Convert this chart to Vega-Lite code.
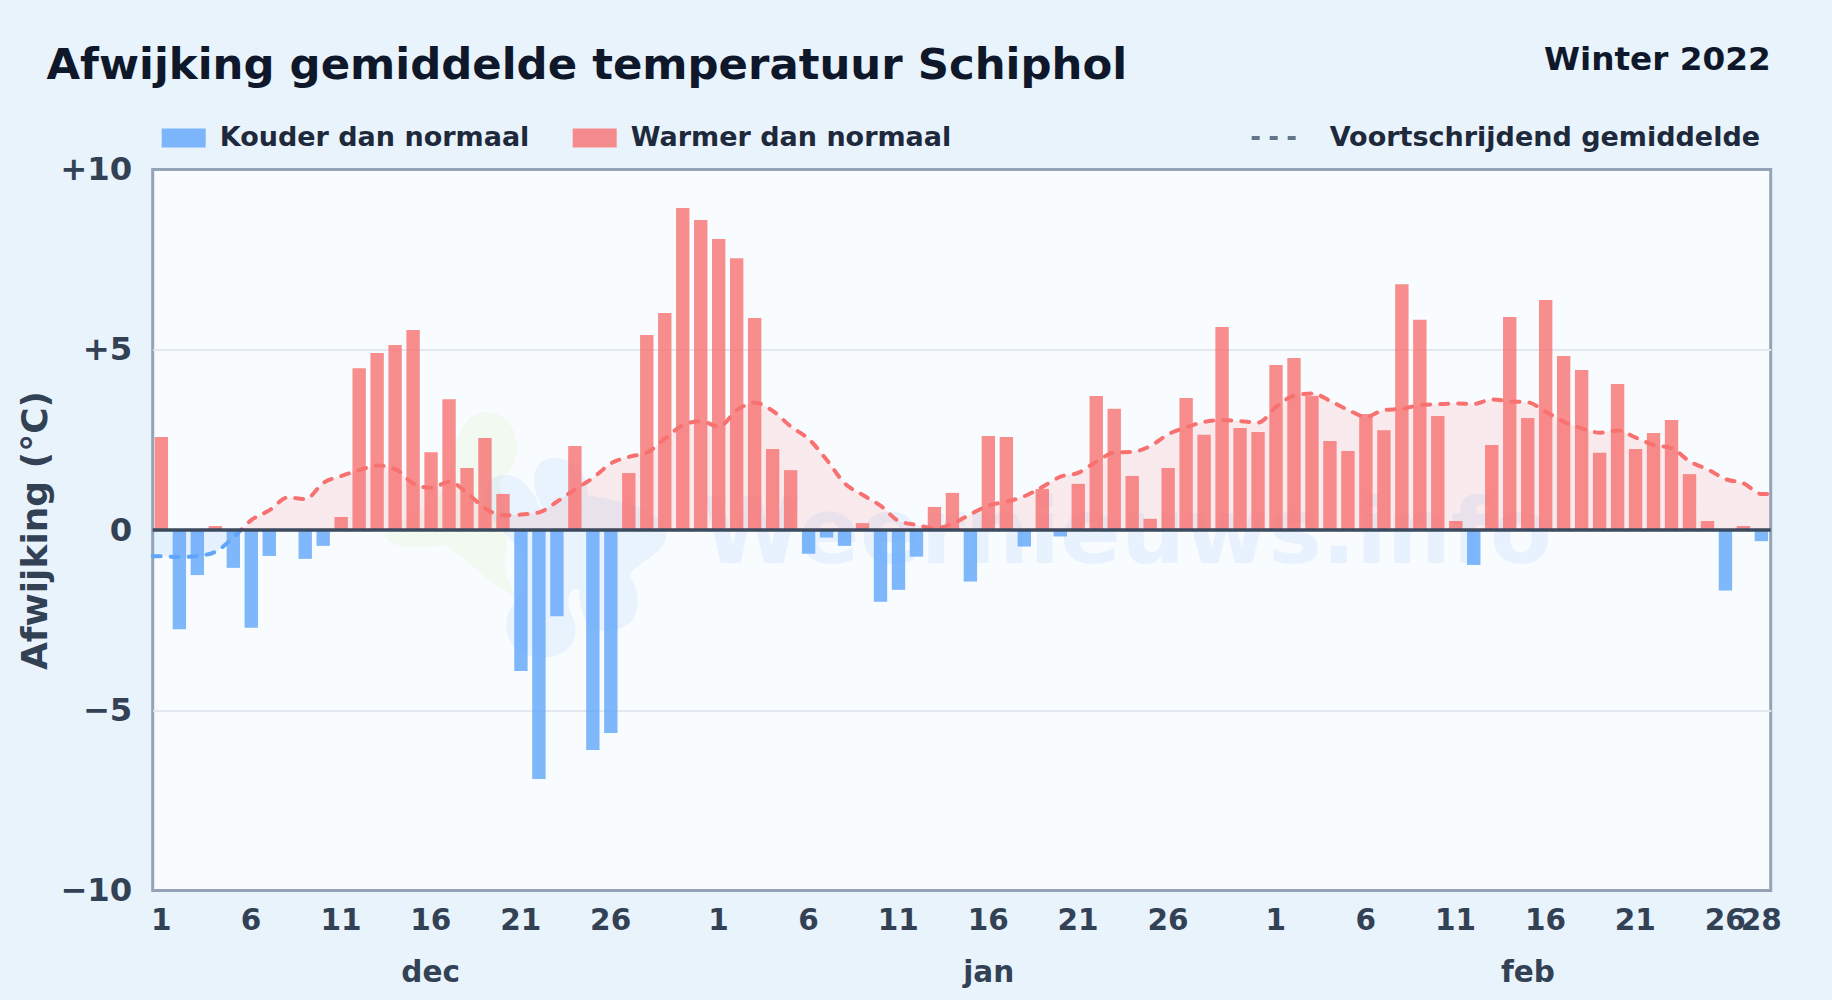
{"$schema":"https://vega.github.io/schema/vega-lite/v6.json","autosize":{"type":"none"},"width":1618,"height":721,"padding":{"left":152.7,"top":169.5,"right":61.3,"bottom":109.5},"background":"#e8f3fc","config":{"font":"DejaVu Sans","view":{"fill":"#f8fcff","stroke":"#94a3b8","strokeWidth":3}},"title":{"text":"Afwijking gemiddelde temperatuur Schiphol","anchor":"start","frame":"group","dx":-106.2,"offset":-45,"fontSize":43.4,"fontWeight":"bold","color":"#0f172a"},"datasets":{"dagen":[{"datum":"2021-12-01T00:00:00","afwijking":2.58,"reeks":"Warmer dan normaal"},{"datum":"2021-12-02T00:00:00","afwijking":-2.75,"reeks":"Kouder dan normaal"},{"datum":"2021-12-03T00:00:00","afwijking":-1.25,"reeks":"Kouder dan normaal"},{"datum":"2021-12-04T00:00:00","afwijking":0.11,"reeks":"Warmer dan normaal"},{"datum":"2021-12-05T00:00:00","afwijking":-1.05,"reeks":"Kouder dan normaal"},{"datum":"2021-12-06T00:00:00","afwijking":-2.71,"reeks":"Kouder dan normaal"},{"datum":"2021-12-07T00:00:00","afwijking":-0.72,"reeks":"Kouder dan normaal"},{"datum":"2021-12-08T00:00:00","afwijking":0,"reeks":"Warmer dan normaal"},{"datum":"2021-12-09T00:00:00","afwijking":-0.8,"reeks":"Kouder dan normaal"},{"datum":"2021-12-10T00:00:00","afwijking":-0.44,"reeks":"Kouder dan normaal"},{"datum":"2021-12-11T00:00:00","afwijking":0.36,"reeks":"Warmer dan normaal"},{"datum":"2021-12-12T00:00:00","afwijking":4.49,"reeks":"Warmer dan normaal"},{"datum":"2021-12-13T00:00:00","afwijking":4.91,"reeks":"Warmer dan normaal"},{"datum":"2021-12-14T00:00:00","afwijking":5.13,"reeks":"Warmer dan normaal"},{"datum":"2021-12-15T00:00:00","afwijking":5.55,"reeks":"Warmer dan normaal"},{"datum":"2021-12-16T00:00:00","afwijking":2.16,"reeks":"Warmer dan normaal"},{"datum":"2021-12-17T00:00:00","afwijking":3.63,"reeks":"Warmer dan normaal"},{"datum":"2021-12-18T00:00:00","afwijking":1.72,"reeks":"Warmer dan normaal"},{"datum":"2021-12-19T00:00:00","afwijking":2.55,"reeks":"Warmer dan normaal"},{"datum":"2021-12-20T00:00:00","afwijking":1.0,"reeks":"Warmer dan normaal"},{"datum":"2021-12-21T00:00:00","afwijking":-3.91,"reeks":"Kouder dan normaal"},{"datum":"2021-12-22T00:00:00","afwijking":-6.91,"reeks":"Kouder dan normaal"},{"datum":"2021-12-23T00:00:00","afwijking":-2.39,"reeks":"Kouder dan normaal"},{"datum":"2021-12-24T00:00:00","afwijking":2.33,"reeks":"Warmer dan normaal"},{"datum":"2021-12-25T00:00:00","afwijking":-6.1,"reeks":"Kouder dan normaal"},{"datum":"2021-12-26T00:00:00","afwijking":-5.63,"reeks":"Kouder dan normaal"},{"datum":"2021-12-27T00:00:00","afwijking":1.58,"reeks":"Warmer dan normaal"},{"datum":"2021-12-28T00:00:00","afwijking":5.41,"reeks":"Warmer dan normaal"},{"datum":"2021-12-29T00:00:00","afwijking":6.02,"reeks":"Warmer dan normaal"},{"datum":"2021-12-30T00:00:00","afwijking":8.93,"reeks":"Warmer dan normaal"},{"datum":"2021-12-31T00:00:00","afwijking":8.6,"reeks":"Warmer dan normaal"},{"datum":"2022-01-01T00:00:00","afwijking":8.07,"reeks":"Warmer dan normaal"},{"datum":"2022-01-02T00:00:00","afwijking":7.54,"reeks":"Warmer dan normaal"},{"datum":"2022-01-03T00:00:00","afwijking":5.88,"reeks":"Warmer dan normaal"},{"datum":"2022-01-04T00:00:00","afwijking":2.25,"reeks":"Warmer dan normaal"},{"datum":"2022-01-05T00:00:00","afwijking":1.66,"reeks":"Warmer dan normaal"},{"datum":"2022-01-06T00:00:00","afwijking":-0.66,"reeks":"Kouder dan normaal"},{"datum":"2022-01-07T00:00:00","afwijking":-0.21,"reeks":"Kouder dan normaal"},{"datum":"2022-01-08T00:00:00","afwijking":-0.44,"reeks":"Kouder dan normaal"},{"datum":"2022-01-09T00:00:00","afwijking":0.19,"reeks":"Warmer dan normaal"},{"datum":"2022-01-10T00:00:00","afwijking":-1.99,"reeks":"Kouder dan normaal"},{"datum":"2022-01-11T00:00:00","afwijking":-1.66,"reeks":"Kouder dan normaal"},{"datum":"2022-01-12T00:00:00","afwijking":-0.74,"reeks":"Kouder dan normaal"},{"datum":"2022-01-13T00:00:00","afwijking":0.64,"reeks":"Warmer dan normaal"},{"datum":"2022-01-14T00:00:00","afwijking":1.03,"reeks":"Warmer dan normaal"},{"datum":"2022-01-15T00:00:00","afwijking":-1.43,"reeks":"Kouder dan normaal"},{"datum":"2022-01-16T00:00:00","afwijking":2.61,"reeks":"Warmer dan normaal"},{"datum":"2022-01-17T00:00:00","afwijking":2.58,"reeks":"Warmer dan normaal"},{"datum":"2022-01-18T00:00:00","afwijking":-0.46,"reeks":"Kouder dan normaal"},{"datum":"2022-01-19T00:00:00","afwijking":1.14,"reeks":"Warmer dan normaal"},{"datum":"2022-01-20T00:00:00","afwijking":-0.18,"reeks":"Kouder dan normaal"},{"datum":"2022-01-21T00:00:00","afwijking":1.28,"reeks":"Warmer dan normaal"},{"datum":"2022-01-22T00:00:00","afwijking":3.72,"reeks":"Warmer dan normaal"},{"datum":"2022-01-23T00:00:00","afwijking":3.36,"reeks":"Warmer dan normaal"},{"datum":"2022-01-24T00:00:00","afwijking":1.5,"reeks":"Warmer dan normaal"},{"datum":"2022-01-25T00:00:00","afwijking":0.31,"reeks":"Warmer dan normaal"},{"datum":"2022-01-26T00:00:00","afwijking":1.72,"reeks":"Warmer dan normaal"},{"datum":"2022-01-27T00:00:00","afwijking":3.66,"reeks":"Warmer dan normaal"},{"datum":"2022-01-28T00:00:00","afwijking":2.64,"reeks":"Warmer dan normaal"},{"datum":"2022-01-29T00:00:00","afwijking":5.63,"reeks":"Warmer dan normaal"},{"datum":"2022-01-30T00:00:00","afwijking":2.83,"reeks":"Warmer dan normaal"},{"datum":"2022-01-31T00:00:00","afwijking":2.72,"reeks":"Warmer dan normaal"},{"datum":"2022-02-01T00:00:00","afwijking":4.58,"reeks":"Warmer dan normaal"},{"datum":"2022-02-02T00:00:00","afwijking":4.77,"reeks":"Warmer dan normaal"},{"datum":"2022-02-03T00:00:00","afwijking":3.72,"reeks":"Warmer dan normaal"},{"datum":"2022-02-04T00:00:00","afwijking":2.47,"reeks":"Warmer dan normaal"},{"datum":"2022-02-05T00:00:00","afwijking":2.19,"reeks":"Warmer dan normaal"},{"datum":"2022-02-06T00:00:00","afwijking":3.22,"reeks":"Warmer dan normaal"},{"datum":"2022-02-07T00:00:00","afwijking":2.77,"reeks":"Warmer dan normaal"},{"datum":"2022-02-08T00:00:00","afwijking":6.82,"reeks":"Warmer dan normaal"},{"datum":"2022-02-09T00:00:00","afwijking":5.83,"reeks":"Warmer dan normaal"},{"datum":"2022-02-10T00:00:00","afwijking":3.16,"reeks":"Warmer dan normaal"},{"datum":"2022-02-11T00:00:00","afwijking":0.25,"reeks":"Warmer dan normaal"},{"datum":"2022-02-12T00:00:00","afwijking":-0.97,"reeks":"Kouder dan normaal"},{"datum":"2022-02-13T00:00:00","afwijking":2.36,"reeks":"Warmer dan normaal"},{"datum":"2022-02-14T00:00:00","afwijking":5.91,"reeks":"Warmer dan normaal"},{"datum":"2022-02-15T00:00:00","afwijking":3.11,"reeks":"Warmer dan normaal"},{"datum":"2022-02-16T00:00:00","afwijking":6.38,"reeks":"Warmer dan normaal"},{"datum":"2022-02-17T00:00:00","afwijking":4.83,"reeks":"Warmer dan normaal"},{"datum":"2022-02-18T00:00:00","afwijking":4.44,"reeks":"Warmer dan normaal"},{"datum":"2022-02-19T00:00:00","afwijking":2.14,"reeks":"Warmer dan normaal"},{"datum":"2022-02-20T00:00:00","afwijking":4.05,"reeks":"Warmer dan normaal"},{"datum":"2022-02-21T00:00:00","afwijking":2.25,"reeks":"Warmer dan normaal"},{"datum":"2022-02-22T00:00:00","afwijking":2.69,"reeks":"Warmer dan normaal"},{"datum":"2022-02-23T00:00:00","afwijking":3.05,"reeks":"Warmer dan normaal"},{"datum":"2022-02-24T00:00:00","afwijking":1.55,"reeks":"Warmer dan normaal"},{"datum":"2022-02-25T00:00:00","afwijking":0.25,"reeks":"Warmer dan normaal"},{"datum":"2022-02-26T00:00:00","afwijking":-1.68,"reeks":"Kouder dan normaal"},{"datum":"2022-02-27T00:00:00","afwijking":0.11,"reeks":"Warmer dan normaal"},{"datum":"2022-02-28T00:00:00","afwijking":-0.31,"reeks":"Kouder dan normaal"}],"lijn":[{"moment":"2021-12-01T00:00:00","gemiddelde":-0.73},{"moment":"2021-12-01T12:00:00","gemiddelde":-0.73},{"moment":"2021-12-02T12:00:00","gemiddelde":-0.75},{"moment":"2021-12-03T12:00:00","gemiddelde":-0.72},{"moment":"2021-12-04T12:00:00","gemiddelde":-0.6},{"moment":"2021-12-05T12:00:00","gemiddelde":-0.2},{"moment":"2021-12-06T12:00:00","gemiddelde":0.28},{"moment":"2021-12-07T12:00:00","gemiddelde":0.55},{"moment":"2021-12-08T12:00:00","gemiddelde":0.9},{"moment":"2021-12-09T12:00:00","gemiddelde":0.86},{"moment":"2021-12-10T12:00:00","gemiddelde":1.31},{"moment":"2021-12-11T12:00:00","gemiddelde":1.5},{"moment":"2021-12-12T12:00:00","gemiddelde":1.66},{"moment":"2021-12-13T12:00:00","gemiddelde":1.79},{"moment":"2021-12-14T12:00:00","gemiddelde":1.69},{"moment":"2021-12-15T12:00:00","gemiddelde":1.29},{"moment":"2021-12-16T12:00:00","gemiddelde":1.17},{"moment":"2021-12-17T12:00:00","gemiddelde":1.34},{"moment":"2021-12-18T12:00:00","gemiddelde":1.02},{"moment":"2021-12-19T12:00:00","gemiddelde":0.6},{"moment":"2021-12-20T12:00:00","gemiddelde":0.41},{"moment":"2021-12-21T12:00:00","gemiddelde":0.43},{"moment":"2021-12-22T12:00:00","gemiddelde":0.49},{"moment":"2021-12-23T12:00:00","gemiddelde":0.79},{"moment":"2021-12-24T12:00:00","gemiddelde":1.13},{"moment":"2021-12-25T12:00:00","gemiddelde":1.45},{"moment":"2021-12-26T12:00:00","gemiddelde":1.85},{"moment":"2021-12-27T12:00:00","gemiddelde":2.03},{"moment":"2021-12-28T12:00:00","gemiddelde":2.15},{"moment":"2021-12-29T12:00:00","gemiddelde":2.54},{"moment":"2021-12-30T12:00:00","gemiddelde":2.91},{"moment":"2021-12-31T12:00:00","gemiddelde":3.02},{"moment":"2022-01-01T12:00:00","gemiddelde":2.87},{"moment":"2022-01-02T12:00:00","gemiddelde":3.33},{"moment":"2022-01-03T12:00:00","gemiddelde":3.53},{"moment":"2022-01-04T12:00:00","gemiddelde":3.3},{"moment":"2022-01-05T12:00:00","gemiddelde":2.87},{"moment":"2022-01-06T12:00:00","gemiddelde":2.52},{"moment":"2022-01-07T12:00:00","gemiddelde":1.94},{"moment":"2022-01-08T12:00:00","gemiddelde":1.29},{"moment":"2022-01-09T12:00:00","gemiddelde":0.97},{"moment":"2022-01-10T12:00:00","gemiddelde":0.67},{"moment":"2022-01-11T12:00:00","gemiddelde":0.25},{"moment":"2022-01-12T12:00:00","gemiddelde":0.14},{"moment":"2022-01-13T12:00:00","gemiddelde":0.05},{"moment":"2022-01-14T12:00:00","gemiddelde":0.18},{"moment":"2022-01-15T12:00:00","gemiddelde":0.44},{"moment":"2022-01-16T12:00:00","gemiddelde":0.68},{"moment":"2022-01-17T12:00:00","gemiddelde":0.79},{"moment":"2022-01-18T12:00:00","gemiddelde":0.94},{"moment":"2022-01-19T12:00:00","gemiddelde":1.2},{"moment":"2022-01-20T12:00:00","gemiddelde":1.48},{"moment":"2022-01-21T12:00:00","gemiddelde":1.59},{"moment":"2022-01-22T12:00:00","gemiddelde":1.9},{"moment":"2022-01-23T12:00:00","gemiddelde":2.15},{"moment":"2022-01-24T12:00:00","gemiddelde":2.17},{"moment":"2022-01-25T12:00:00","gemiddelde":2.33},{"moment":"2022-01-26T12:00:00","gemiddelde":2.66},{"moment":"2022-01-27T12:00:00","gemiddelde":2.85},{"moment":"2022-01-28T12:00:00","gemiddelde":3.0},{"moment":"2022-01-29T12:00:00","gemiddelde":3.05},{"moment":"2022-01-30T12:00:00","gemiddelde":3.02},{"moment":"2022-01-31T12:00:00","gemiddelde":2.98},{"moment":"2022-02-01T12:00:00","gemiddelde":3.42},{"moment":"2022-02-02T12:00:00","gemiddelde":3.73},{"moment":"2022-02-03T12:00:00","gemiddelde":3.79},{"moment":"2022-02-04T12:00:00","gemiddelde":3.58},{"moment":"2022-02-05T12:00:00","gemiddelde":3.33},{"moment":"2022-02-06T12:00:00","gemiddelde":3.14},{"moment":"2022-02-07T12:00:00","gemiddelde":3.33},{"moment":"2022-02-08T12:00:00","gemiddelde":3.36},{"moment":"2022-02-09T12:00:00","gemiddelde":3.47},{"moment":"2022-02-10T12:00:00","gemiddelde":3.49},{"moment":"2022-02-11T12:00:00","gemiddelde":3.51},{"moment":"2022-02-12T12:00:00","gemiddelde":3.5},{"moment":"2022-02-13T12:00:00","gemiddelde":3.62},{"moment":"2022-02-14T12:00:00","gemiddelde":3.57},{"moment":"2022-02-15T12:00:00","gemiddelde":3.54},{"moment":"2022-02-16T12:00:00","gemiddelde":3.28},{"moment":"2022-02-17T12:00:00","gemiddelde":3.0},{"moment":"2022-02-18T12:00:00","gemiddelde":2.82},{"moment":"2022-02-19T12:00:00","gemiddelde":2.7},{"moment":"2022-02-20T12:00:00","gemiddelde":2.76},{"moment":"2022-02-21T12:00:00","gemiddelde":2.56},{"moment":"2022-02-22T12:00:00","gemiddelde":2.36},{"moment":"2022-02-23T12:00:00","gemiddelde":2.27},{"moment":"2022-02-24T12:00:00","gemiddelde":1.9},{"moment":"2022-02-25T12:00:00","gemiddelde":1.68},{"moment":"2022-02-26T12:00:00","gemiddelde":1.41},{"moment":"2022-02-27T12:00:00","gemiddelde":1.29},{"moment":"2022-02-28T12:00:00","gemiddelde":1.0},{"moment":"2022-03-01T00:00:00","gemiddelde":1.0}],"maanden":[{"maand":"dec","midden":"2021-12-16T11:00:00"},{"maand":"jan","midden":"2022-01-16T12:00:00"},{"maand":"feb","midden":"2022-02-15T12:00:00"}]},"layer":[{"data":{"name":"dagen"},"mark":{"type":"rule","opacity":0},"encoding":{"x":{"field":"datum","type":"temporal","title":null,"scale":{"domain":[{"year":2021,"month":12,"date":1},{"year":2022,"month":3,"date":1}],"nice":false},"axis":{"domain":false,"ticks":false,"grid":false,"title":null,"values":[{"year":2021,"month":12,"date":1},{"year":2021,"month":12,"date":6},{"year":2021,"month":12,"date":11},{"year":2021,"month":12,"date":16},{"year":2021,"month":12,"date":21},{"year":2021,"month":12,"date":26},{"year":2022,"month":1,"date":1},{"year":2022,"month":1,"date":6},{"year":2022,"month":1,"date":11},{"year":2022,"month":1,"date":16},{"year":2022,"month":1,"date":21},{"year":2022,"month":1,"date":26},{"year":2022,"month":2,"date":1},{"year":2022,"month":2,"date":6},{"year":2022,"month":2,"date":11},{"year":2022,"month":2,"date":16},{"year":2022,"month":2,"date":21},{"year":2022,"month":2,"date":26},{"year":2022,"month":2,"date":28}],"format":"%-d","labelOffset":8,"labelAlign":"center","labelOverlap":false,"labelBound":false,"labelFlush":false,"labelFontSize":29.5,"labelFontWeight":"bold","labelColor":"#334155","labelPadding":16}},"y":{"field":"afwijking","type":"quantitative","title":"Afwijking (°C)","scale":{"domain":[-10,10],"nice":false,"zero":false},"axis":{"values":[-10,-5,0,5,10],"labelExpr":"datum.value>0?'+'+datum.value:(datum.value<0?'−'+abs(datum.value):'0')","domain":false,"ticks":false,"grid":true,"gridColor":{"condition":{"test":"abs(datum.value)==5","value":"#e2e8f0"},"value":"transparent"},"gridWidth":2,"labelFontSize":32.3,"labelFontWeight":"bold","labelColor":"#334155","labelPadding":21,"titleFontSize":36,"titleFontWeight":"bold","titleColor":"#334155","titlePadding":5}}}},{"data":{"values":[{"vorm":"kaart"}]},"mark":{"type":"point","shape":"M-115,5 C-100,-15 -65,-15 -50,-50 C-50,-95 -30,-118 -15,-118 C10,-118 20,-95 17,-75 C15,-60 5,-55 0,-50 C5,-20 10,10 5,30 C5,50 15,60 15,65 C-5,60 -30,30 -55,15 C-80,18 -110,20 -115,5Z","filled":true,"size":4,"fill":"#84cc16","opacity":0.06},"encoding":{"x":{"datum":{"year":2021,"month":12,"date":20,"hours":7},"type":"temporal"},"y":{"datum":0}}},{"data":{"values":[{"vorm":"kaart"}]},"mark":{"type":"point","shape":"M-15,-40 C-10,-60 20,-60 30,-40 C38,-35 38,-20 45,-20 C30,-40 30,-72 55,-72 C75,-72 90,-55 88,-35 C120,-30 165,-20 167,5 C165,25 140,30 130,45 C145,70 140,100 110,100 C90,105 80,90 80,60 C70,55 65,70 72,85 C85,110 65,130 40,127 C15,128 0,105 10,80 C25,60 30,40 20,20 C5,0 -20,-15 -15,-40Z","filled":true,"size":4,"fill":"#60a5fa","opacity":0.1},"encoding":{"x":{"datum":{"year":2021,"month":12,"date":20,"hours":7},"type":"temporal"},"y":{"datum":0}}},{"data":{"values":[{"tekst":"Weernieuws.info"}]},"mark":{"type":"text","fontSize":90,"fontWeight":"bold","align":"center","baseline":"alphabetic","fill":"#60a5fa","opacity":0.1},"encoding":{"x":{"datum":{"year":2022,"month":1,"date":24,"hours":5},"type":"temporal"},"y":{"datum":-0.92},"text":{"field":"tekst"}}},{"data":{"name":"lijn"},"mark":{"type":"area","interpolate":"monotone","fill":{"gradient":"linear","x1":0,"y1":0,"x2":0,"y2":1,"stops":[{"offset":0,"color":"#f87171"},{"offset":0.8348,"color":"#f87171"},{"offset":0.8348,"color":"#60a5fa"},{"offset":1,"color":"#60a5fa"}]},"opacity":0.13},"encoding":{"x":{"field":"moment","type":"temporal"},"y":{"field":"gemiddelde","type":"quantitative"},"y2":{"datum":0}}},{"data":{"name":"dagen"},"mark":{"type":"bar","width":{"band":0.8},"opacity":0.8,"xOffset":-0.8},"encoding":{"x":{"field":"datum","timeUnit":"yearmonthdate","type":"temporal"},"y":{"field":"afwijking","type":"quantitative"},"y2":{"datum":0},"fill":{"field":"reeks","type":"nominal","scale":{"domain":["Kouder dan normaal","Warmer dan normaal"],"range":["#60a5fa","#f87171"]},"legend":{"orient":"none","direction":"horizontal","legendX":9,"legendY":-53.5,"title":null,"symbolType":"M-1,-0.43H1V0.43H-1Z","symbolSize":1936,"symbolStrokeWidth":0,"labelFontSize":27,"labelFontWeight":"bold","labelColor":"#1e293b","labelOffset":14,"columnPadding":43,"labelLimit":600}}}},{"data":{"name":"lijn"},"mark":{"type":"line","interpolate":"monotone","stroke":{"gradient":"linear","x1":0,"y1":0,"x2":0,"y2":1,"stops":[{"offset":0,"color":"#f87171"},{"offset":0.8348,"color":"#f87171"},{"offset":0.8348,"color":"#60a5fa"},{"offset":1,"color":"#60a5fa"}]},"strokeWidth":4,"strokeCap":"round"},"encoding":{"x":{"field":"moment","type":"temporal"},"y":{"field":"gemiddelde","type":"quantitative"},"strokeDash":{"datum":"Voortschrijdend gemiddelde","scale":{"domain":["Voortschrijdend gemiddelde"],"range":[[8,10]]},"legend":{"orient":"none","legendX":1097,"legendY":-60.5,"title":null,"symbolType":"stroke","symbolSize":2916,"symbolStrokeColor":"#64748b","symbolStrokeWidth":4,"symbolDash":[5,11],"labelFontSize":27,"labelFontWeight":"bold","labelColor":"#1e293b","labelOffset":22,"labelLimit":600}}}},{"data":{"values":[{"nul":0}]},"mark":{"type":"rule","stroke":"#3b4a5e","strokeWidth":3.5},"encoding":{"y":{"field":"nul","type":"quantitative"}}},{"data":{"name":"maanden"},"mark":{"type":"text","fontSize":29.5,"fontWeight":"bold","fill":"#334155","align":"center","baseline":"middle"},"encoding":{"x":{"field":"midden","type":"temporal"},"y":{"datum":-12.3},"text":{"field":"maand"}}},{"data":{"values":[{"tekst":"Winter 2022"}]},"mark":{"type":"text","fontSize":32.7,"fontWeight":"bold","fill":"#0f172a","align":"right","baseline":"middle"},"encoding":{"x":{"datum":{"year":2022,"month":3,"date":1},"type":"temporal"},"y":{"datum":13.05},"text":{"field":"tekst"}}}]}
